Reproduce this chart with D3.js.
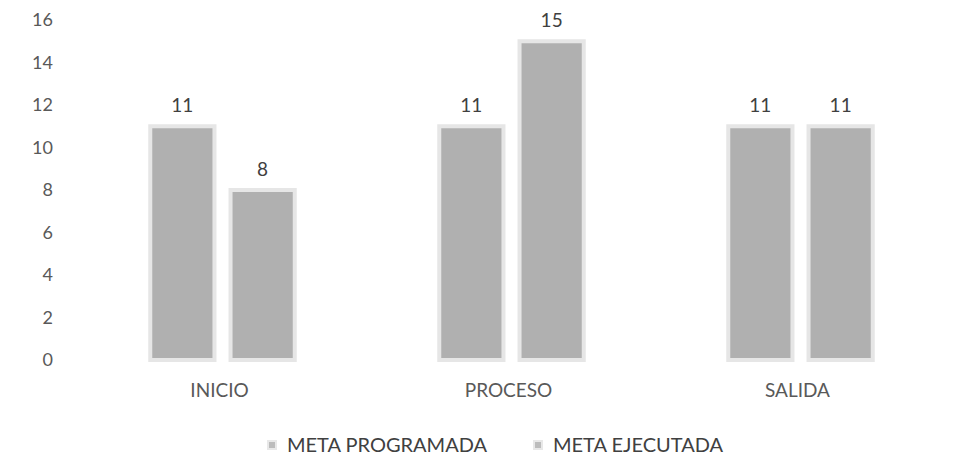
<!DOCTYPE html>
<html><head><meta charset="utf-8">
<script src="https://cdn.jsdelivr.net/npm/d3@7/dist/d3.min.js"></script>
<style>body{margin:0;background:#fff}svg{display:block}text{font-family:Lato,"Open Sans",sans-serif}</style>
</head><body><svg id="c" width="961" height="472"></svg>
<script>
const categories = ["INICIO","PROCESO","SALIDA"];
const seriesNames = ["META PROGRAMADA","META EJECUTADA"];
const metaProgramada = [11,11,11];
const metaEjecutada = [8,15,11];
const yTicks = [0,2,4,6,8,10,12,14,16];

const svg = d3.select("#c");
const y = d3.scaleLinear().domain([0,16]).range([360,20]);
const x = d3.scaleBand().domain(categories).range([78,945]).paddingInner(0.5).paddingOuter(0.25);
const x1 = d3.scaleBand().domain(seriesNames).range([0,x.bandwidth()]).paddingInner(0.2);

const yAxis = d3.axisLeft(y).tickValues(yTicks).tickSize(0).tickPadding(0);
const gy = svg.append("g").attr("transform","translate(53,0)").call(yAxis);
gy.select(".domain").remove();
gy.selectAll("text").attr("fill","#595959").style("font-size","18px");

const xAxis = d3.axisBottom(x).tickSize(0).tickPadding(0);
const gx = svg.append("g").attr("transform","translate(-3,383)").call(xAxis);
gx.select(".domain").remove();
gx.selectAll("text").attr("fill","#595959").style("font-size","19px").attr("dy","0.71em");

const data = categories.map((c,i)=>({c, vals:[metaProgramada[i], metaEjecutada[i]]}));
const groups = svg.append("g").selectAll("g").data(data).join("g")
  .attr("transform",d=>`translate(${x(d.c)},0)`);
groups.selectAll("rect").data(d=>d.vals.map((v,j)=>({v,s:seriesNames[j]}))).join("rect")
  .attr("x",d=>x1(d.s)).attr("width",x1.bandwidth())
  .attr("y",d=>y(d.v)).attr("height",d=>y(0)-y(d.v))
  .attr("fill","#b0b0b0").attr("stroke","#e6e6e6").attr("stroke-width",4);
groups.selectAll("text.lbl").data(d=>d.vals.map((v,j)=>({v,s:seriesNames[j]}))).join("text")
  .attr("class","lbl")
  .attr("x",d=>x1(d.s)+x1.bandwidth()/2).attr("y",d=>y(d.v)-14)
  .attr("text-anchor","middle").attr("fill","#404040").style("font-size","19px")
  .text(d=>d.v);

const legX = [268, 534];
const leg = svg.append("g").selectAll("g").data(seriesNames).join("g")
  .attr("transform",(d,i)=>`translate(${legX[i]},445)`);
leg.append("rect").attr("x",0).attr("y",-4).attr("width",8).attr("height",8)
  .attr("fill","#bcbcbc").attr("stroke","#e8e8e8").attr("stroke-width",2);
leg.append("text").attr("x",19).attr("y",0).attr("dy","0.35em")
  .attr("fill","#404040").style("font-size","20px").text(d=>d);
</script></body></html>
